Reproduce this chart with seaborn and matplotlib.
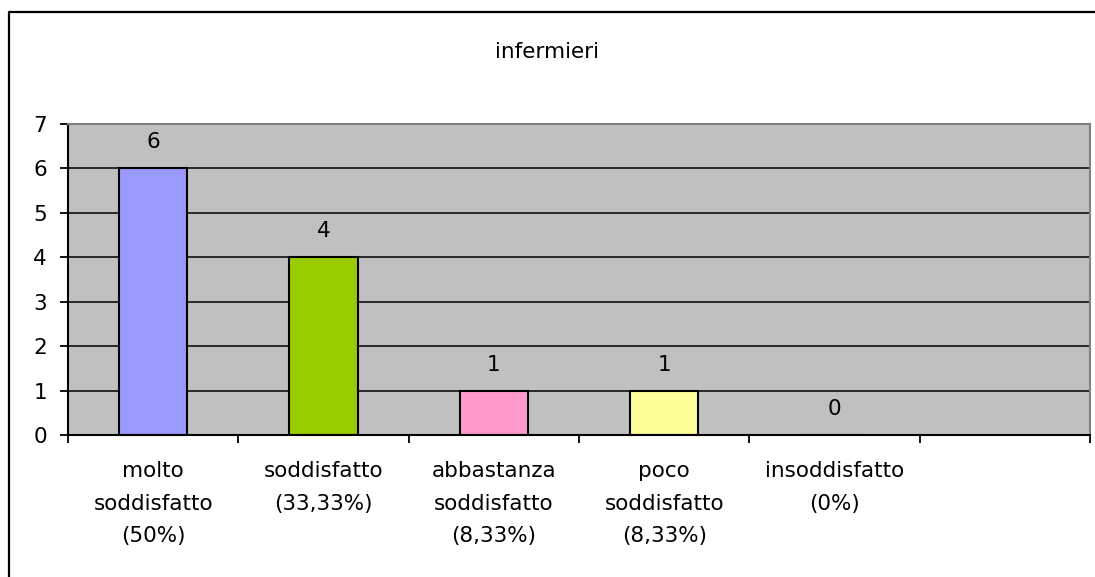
import matplotlib
matplotlib.use("Agg")
import matplotlib.pyplot as plt
import seaborn as sns
import pandas as pd
from matplotlib.lines import Line2D
from matplotlib.ticker import FixedLocator

categories = ["molto\nsoddisfatto\n(50%)", "soddisfatto\n(33,33%)",
              "abbastanza\nsoddisfatto\n(8,33%)", "poco\nsoddisfatto\n(8,33%)",
              "insoddisfatto\n(0%)"]
values = [6, 4, 1, 1, 0]
colors = ["#9999FF", "#99CC00", "#FF99CC", "#FFFF99", "#99CCFF"]
title = "infermieri"
yticks = [0, 1, 2, 3, 4, 5, 6, 7]

sns.set_theme(style="white")
plt.rcParams['font.family'] = ['DejaVu Sans']
FS = 15.5

df = pd.DataFrame({"cat": categories, "val": values})

fig = plt.figure(figsize=(10.95, 5.77), dpi=100)
W, H = 1095, 577
ax = fig.add_axes([68 / W, 142 / H, (1090 - 68) / W, (435 - 124) / H])
ax.set_facecolor("#C0C0C0")

sns.barplot(data=df, x="cat", y="val", hue="cat", palette=colors, width=0.4,
            saturation=1, edgecolor="black", linewidth=1.5, legend=False, ax=ax, zorder=3)

ax.set_xlim(-0.5, 5.5)
ax.set_ylim(0, 7)
ax.set_yticks(yticks)
ax.set_yticklabels([str(v) for v in yticks], fontsize=FS, color="black")
ax.yaxis.grid(True, color="black", linewidth=1.1)
ax.set_axisbelow(True)

ax.set_xticks(range(len(categories)))
ax.set_xticklabels(categories, fontsize=FS, color="black", linespacing=1.78, va="top")
ax.xaxis.set_minor_locator(FixedLocator([i - 0.5 for i in range(7)]))
ax.tick_params(axis="x", which="major", length=0, pad=19)
ax.tick_params(axis="x", which="minor", length=6, width=1.3, color="black", direction="out", bottom=True)
ax.tick_params(axis="y", length=6, width=1.3, color="black", direction="out", left=True, pad=9)
ax.set_xlabel("")
ax.set_ylabel("")

for s in ["left", "bottom"]:
    ax.spines[s].set_color("black")
    ax.spines[s].set_linewidth(1.5)
for s in ["top", "right"]:
    ax.spines[s].set_color("#808080")
    ax.spines[s].set_linewidth(1.5)
    ax.spines[s].set_zorder(5)
ax.spines["left"].set_zorder(5)
ax.spines["bottom"].set_zorder(5)

for i, v in enumerate(values):
    ax.annotate(str(v), (i, v), xytext=(0, 11.5), textcoords="offset points",
                ha="center", va="bottom", fontsize=FS, color="black", zorder=6)

fig.text(547 / W, 1 - 52 / H, title, ha="center", va="center", fontsize=FS, color="black")

fig.add_artist(Line2D([9 / W, 9 / W, 1.0], [0.0, 1 - 12 / H, 1 - 12 / H],
                      transform=fig.transFigure, color="black", linewidth=1.6))

fig.savefig("out.png", dpi=100, facecolor="white")
